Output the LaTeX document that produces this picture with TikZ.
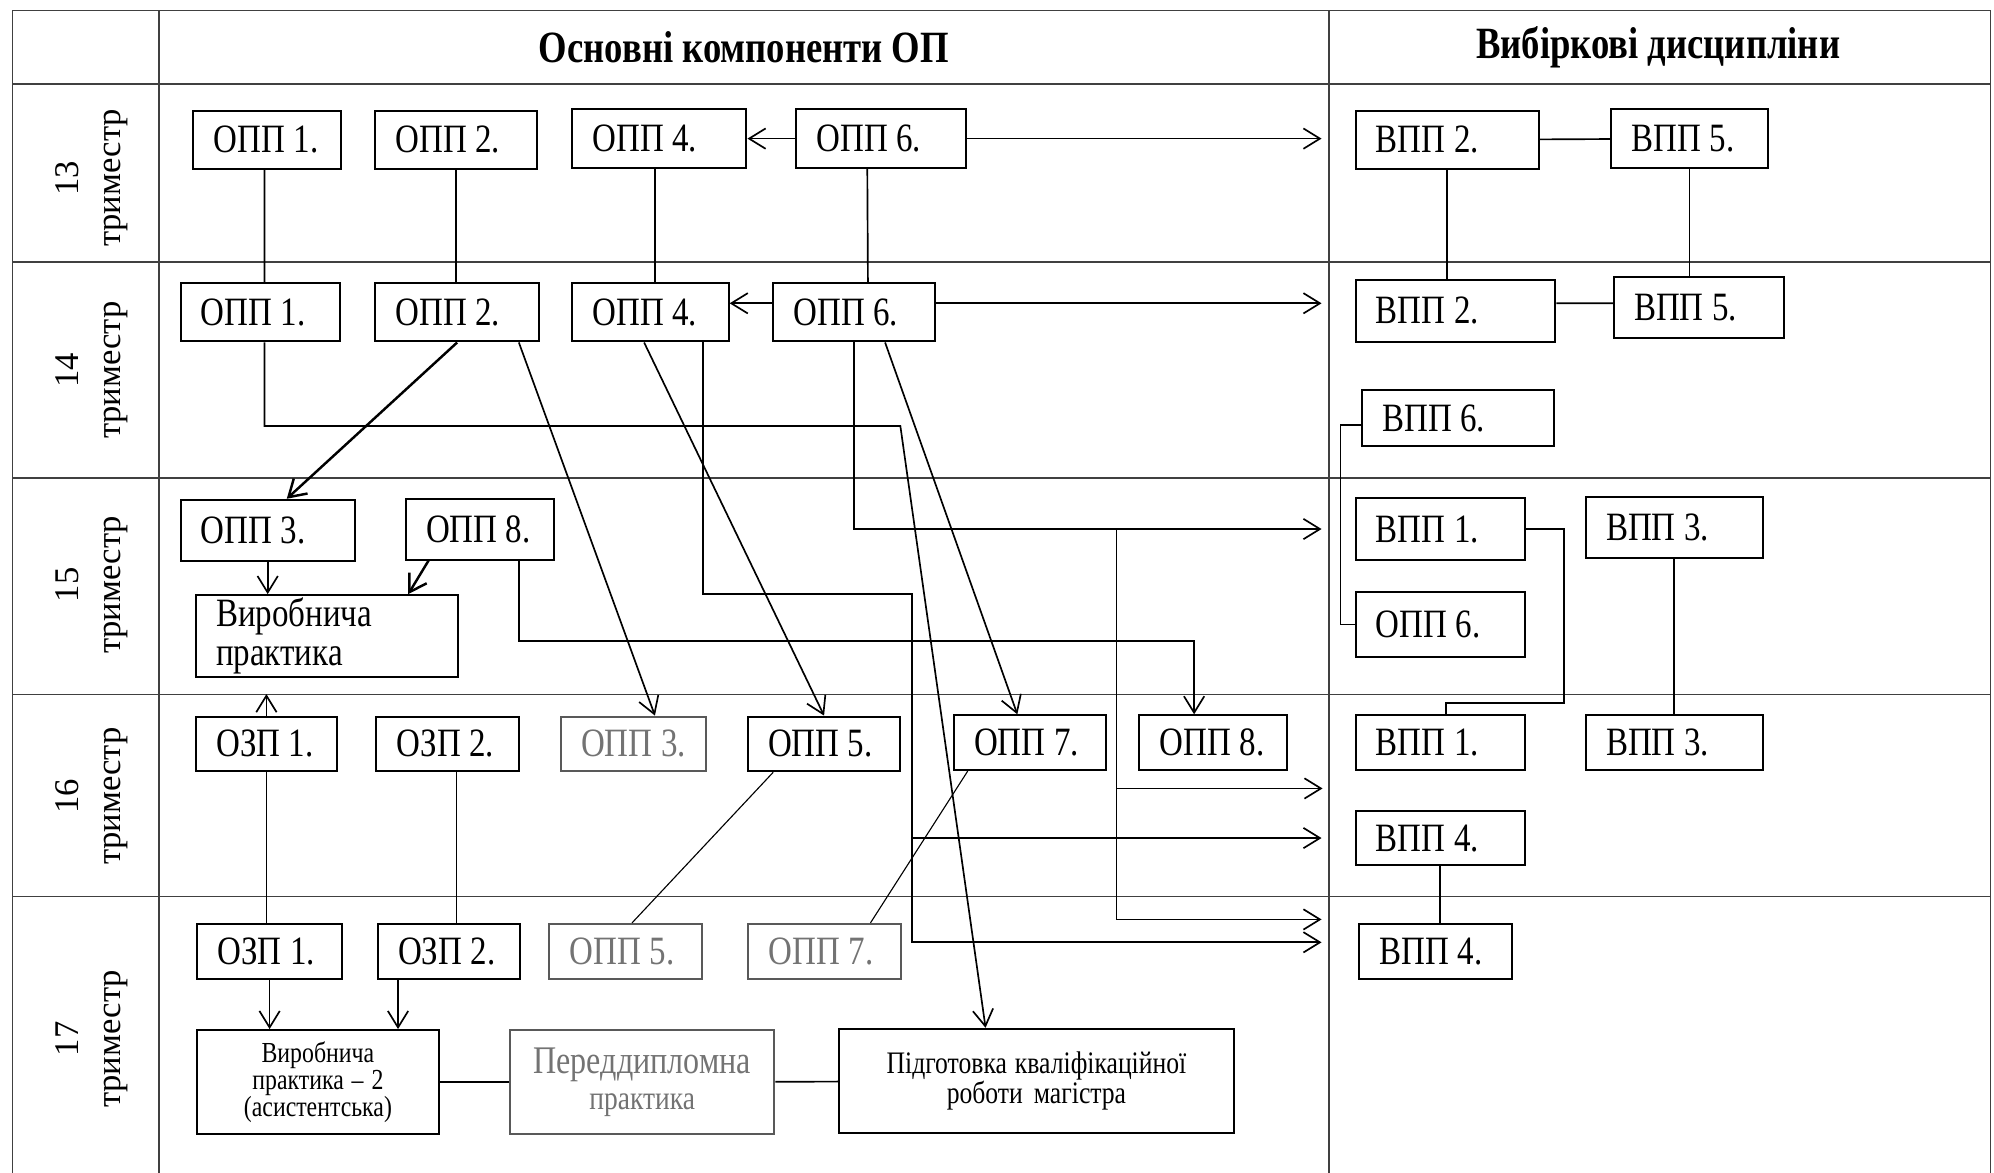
\documentclass[tikz,border=0pt]{standalone}
\usepackage{fontspec}
\setmainfont{Liberation Serif}[FakeStretch=0.82]
\newfontfamily\trifont{Liberation Serif}
\usetikzlibrary{arrows.meta}

\begin{document}
\begin{tikzpicture}[
    x=0.2mm, y=-0.2mm,
    >={Straight Barb[length=2.6mm,width=3.2mm]},
    tabline/.style={black!75,line width=0.6pt},
    head/.style={font=\bfseries\fontsize{20}{24}\selectfont},
    tri/.style={rotate=90,align=center,font=\trifont\fontsize{15.5}{18.8}\selectfont},
    box/.style={draw,line width=0.9pt,inner xsep=3.2mm,inner ysep=0pt,minimum height=9.2mm,align=left,font=\fontsize{18}{21}\selectfont,
      execute at begin node={\spaceskip=0.21em plus 0.1em\relax}},
    sbox/.style={box,minimum height=8.6mm},
    wide/.style={draw,line width=0.9pt,inner xsep=3mm,inner ysep=0pt,minimum height=16.4mm,align=center,
      execute at begin node={\spaceskip=0.21em plus 0.1em\relax}},
    faint/.style={text=black!55,draw=black!65},
    link/.style={line width=0.75pt},
    thinlink/.style={line width=0.5pt},
    arr/.style={link,->},
    thickarr/.style={line width=1.1pt,->}
    ]
    \useasboundingbox (0,0) rectangle (1568,922);
    \draw[tabline] (10,8) -- (1565,8);
    \draw[tabline] (10,66) -- (1565,66);
    \draw[tabline] (10,206) -- (1565,206);
    \draw[tabline] (10,376) -- (1565,376);
    \draw[tabline] (10,546) -- (1565,546);
    \draw[tabline] (10,705) -- (1565,705);
    \draw[tabline] (10,8) -- (10,922);
    \draw[tabline] (125,8) -- (125,922);
    \draw[tabline] (1045,8) -- (1045,922);
    \draw[tabline] (1565,8) -- (1565,922);

    \node[head] (hmain) at (585,37) {Основні компоненти ОП};
    \node[head] (hopt) at (1304,37) {Вибіркові дисципліни};
    \node[tri] (t13) at (72,140) {13\\триместр};
    \node[tri] (t14) at (72,291) {14\\триместр};
    \node[tri] (t15) at (72,460) {15\\триместр};
    \node[tri] (t16) at (72,626) {16\\триместр};
    \node[tri] (t17) at (72,817) {17\\триместр};

    \node[box,text width=16.8mm] (o1-13) at (210,110) {ОПП~1.};
    \node[box,text width=19mm] (o2-13) at (358.5,110) {ОПП~2.};
    \node[box,text width=21mm] (o4-13) at (518.5,109) {ОПП~4.};
    \node[box,text width=20.4mm] (o6-13) at (693,109) {ОПП~6.};
    \node[box,text width=22.4mm] (v2-13) at (1138,110) {ВПП~2.};
    \node[box,text width=18.2mm] (v5-13) at (1328.5,109) {ВПП~5.};

    \node[box,text width=18.6mm] (o1-14) at (204.5,245.5) {ОПП~1.};
    \node[box,text width=19.4mm] (o2-14) at (359.5,245.5) {ОПП~2.};
    \node[box,text width=18.2mm] (o4-14) at (511.5,245.5) {ОПП~4.};
    \node[box,text width=19mm] (o6-14) at (671.5,245.5) {ОПП~6.};
    \node[box,text width=25mm,minimum height=9.8mm] (v2-14) at (1144.5,244.5) {ВПП~2.};
    \node[box,text width=20.4mm,minimum height=9.6mm] (v5-14) at (1336,242) {ВПП~5.};
    \node[box,text width=23.8mm,minimum height=8.8mm] (v6-14) at (1146.5,329) {ВПП~6.};

    \node[box,text width=21mm,minimum height=9.6mm] (o3-15) at (210.5,417) {ОПП~3.};
    \node[box,text width=17mm,minimum height=9.6mm] (o8-15) at (377.5,416) {ОПП~8.};
    \node[box,text width=34.8mm,minimum height=12.8mm,font={\fontsize{18}{17.5}\selectfont}] (prak15) at (257,500) {Виробнича\\практика};
    \node[box,text width=20.2mm,minimum height=9.8mm] (v1-15) at (1132.5,416) {ВПП~1.};
    \node[box,text width=21.4mm,minimum height=9.6mm] (v3-15) at (1316.5,415) {ВПП~3.};
    \node[box,text width=20.2mm,minimum height=10.2mm] (o6r-15) at (1132.5,491) {ОПП~6.};

    \node[sbox,text width=15.8mm] (z1-16) at (209.5,585) {ОЗП~1.};
    \node[sbox,text width=16mm] (z2-16) at (352,585) {ОЗП~2.};
    \node[sbox,faint,text width=16.4mm] (o3-16) at (498,585) {ОПП~3.};
    \node[sbox,text width=17.6mm] (o5-16) at (648,585) {ОПП~5.};
    \node[sbox,text width=17.6mm] (o7-16) at (810,584) {ОПП~7.};
    \node[sbox,text width=16.8mm] (o8-16) at (954,584) {ОПП~8.};
    \node[sbox,text width=20.2mm] (v1-16) at (1132.5,584) {ВПП~1.};
    \node[sbox,text width=21.4mm] (v3-16) at (1316.5,584) {ВПП~3.};
    \node[sbox,text width=20.2mm] (v4-16) at (1132.5,659) {ВПП~4.};

    \node[sbox,text width=16.4mm] (z1-17) at (212,748) {ОЗП~1.};
    \node[sbox,text width=16mm] (z2-17) at (353,748) {ОЗП~2.};
    \node[sbox,faint,text width=17.6mm] (o5-17) at (492,748) {ОПП~5.};
    \node[sbox,faint,text width=17.6mm] (o7-17) at (648.5,748) {ОПП~7.};
    \node[sbox,text width=17.6mm] (v4-17) at (1129,748) {ВПП~4.};
    \node[wide,text width=32mm,font={\fontsize{13}{12}\selectfont}] (prak17) at (250,851) {Виробнича\\практика – 2\\(асистентська)};
    \node[wide,faint,text width=35.6mm,font={\fontsize{17.5}{16.3}\selectfont}] (pdp17) at (505,851) {Переддипломна\\{\fontsize{15}{16.3}\selectfont практика}};
    \node[wide,text width=56mm,font={\fontsize{14}{13.5}\selectfont}] (kvr17) at (815,850) {Підготовка кваліфікаційної\\роботи магістра};

    \coordinate (b1) at (708,335);
    \coordinate (b2) at (717,467);
    \coordinate (b3) at (878,416);
    \coordinate (b4) at (600,504);
    \coordinate (b5) at (1054,400);
    \coordinate (b6) at (1230,553);
    \coordinate (gap16) at (1040,620);

    \draw[link] ([xshift=-0.4mm]o1-13.south) -- ([xshift=0.7mm]o1-14.north);
    \draw[link] (o2-13) -- (o2-13 |- o2-14.north);
    \draw[link] ([xshift=-0.7mm]o4-13.south) -- ([xshift=0.7mm]o4-14.north);
    \draw[link] ([xshift=-2.2mm]o6-13.south) -- ([xshift=2.2mm]o6-14.north);
    \draw[arr] (o6-13) -- (o4-13);
    \draw[arr,shorten >=5.2mm] (o6-13) -- (o6-13 -| v2-13.west);
    \draw[link] (v2-13) -- (v5-13);
    \draw[link] (v2-13) -- (v2-13 |- v2-14.north);
    \draw[link] (v5-13) -- (v5-13 |- v5-14.north);

    \draw[arr] ([yshift=1.4mm]o6-14.west) -- ([yshift=1.4mm]o4-14.east);
    \draw[arr,shorten >=5.2mm] ([yshift=1.4mm]o6-14.east) -- ([yshift=1.2mm]v2-14.west);
    \draw[link] ([yshift=1.2mm]v2-14.east) -- ([yshift=0.7mm]v5-14.west);
    \draw[arr] ([xshift=0.7mm]o1-14.south) |- (b1) -- ([xshift=-8mm]kvr17.north);
    \draw[thickarr] (o2-14.south) -- ([xshift=3mm]o3-15.north);
    \draw[arr] ([xshift=9.7mm]o2-14.south) -- ([xshift=3.4mm]o3-16.north);
    \draw[arr] ([xshift=-1mm]o4-14.south) -- (o5-16.north);
    \draw[arr,shorten >=5.8mm] ([xshift=8.3mm]o4-14.south) |- (b2) |- ([yshift=1.4mm]v4-17.west);
    \draw[arr,shorten >=5.2mm] (b2 |- v4-16.west) -- (v4-16.west);
    \draw[arr,shorten >=5.2mm] (o6-14.south) |- (v1-15.west);
    \draw[arr,shorten >=5.8mm] (b3) |- ([yshift=5mm]v4-17.west);
    \draw[arr] (b3 |- gap16) -- (gap16);
    \draw[arr] ([xshift=4.9mm]o6-14.south) -- ([xshift=-2mm]o7-16.north);
    \draw[link] ([yshift=-1mm]v6-14.west) -| (b5) |- (o6r-15.west);

    \draw[arr] (o3-15) -- (o3-15 |- prak15.north);
    \draw[thickarr] ([xshift=-8.1mm]o8-15.south) -- ([xshift=12.8mm]prak15.north);
    \draw[arr] ([xshift=6.1mm]o8-15.south) |- (b4) -| ([xshift=-3mm]o8-16.north);
    \draw[link] (v1-15.east) -| (b6) -| ([xshift=0.9mm]v1-16.north);
    \draw[link] (v3-15) -- (v3-15 |- v3-16.north);

    \draw[arr,shorten >=2.6mm] (z1-16) -- (z1-16 |- prak15.south);
    \draw[link] (z1-16) -- (z1-16 |- z1-17.north);
    \draw[link] ([xshift=1.4mm]z2-16.south) -- ([xshift=1.2mm]z2-17.north);
    \draw[thinlink] ([xshift=-8mm]o5-16.south) -- ([xshift=1mm]o5-17.north);
    \draw[thinlink] ([xshift=-9.8mm]o7-16.south) -- ([xshift=7.2mm]o7-17.north);
    \draw[link] (v4-16) -- (v4-16 |- v4-17.north);

    \draw[arr] (z1-17) -- (z1-17 |- prak17.north);
    \draw[arr] ([xshift=-8mm]z2-17.south) -- ([xshift=12.6mm]prak17.north);
    \draw[link] (prak17) -- (pdp17);
    \draw[link] (pdp17) -- (kvr17);
  \end{tikzpicture}
\end{document}
